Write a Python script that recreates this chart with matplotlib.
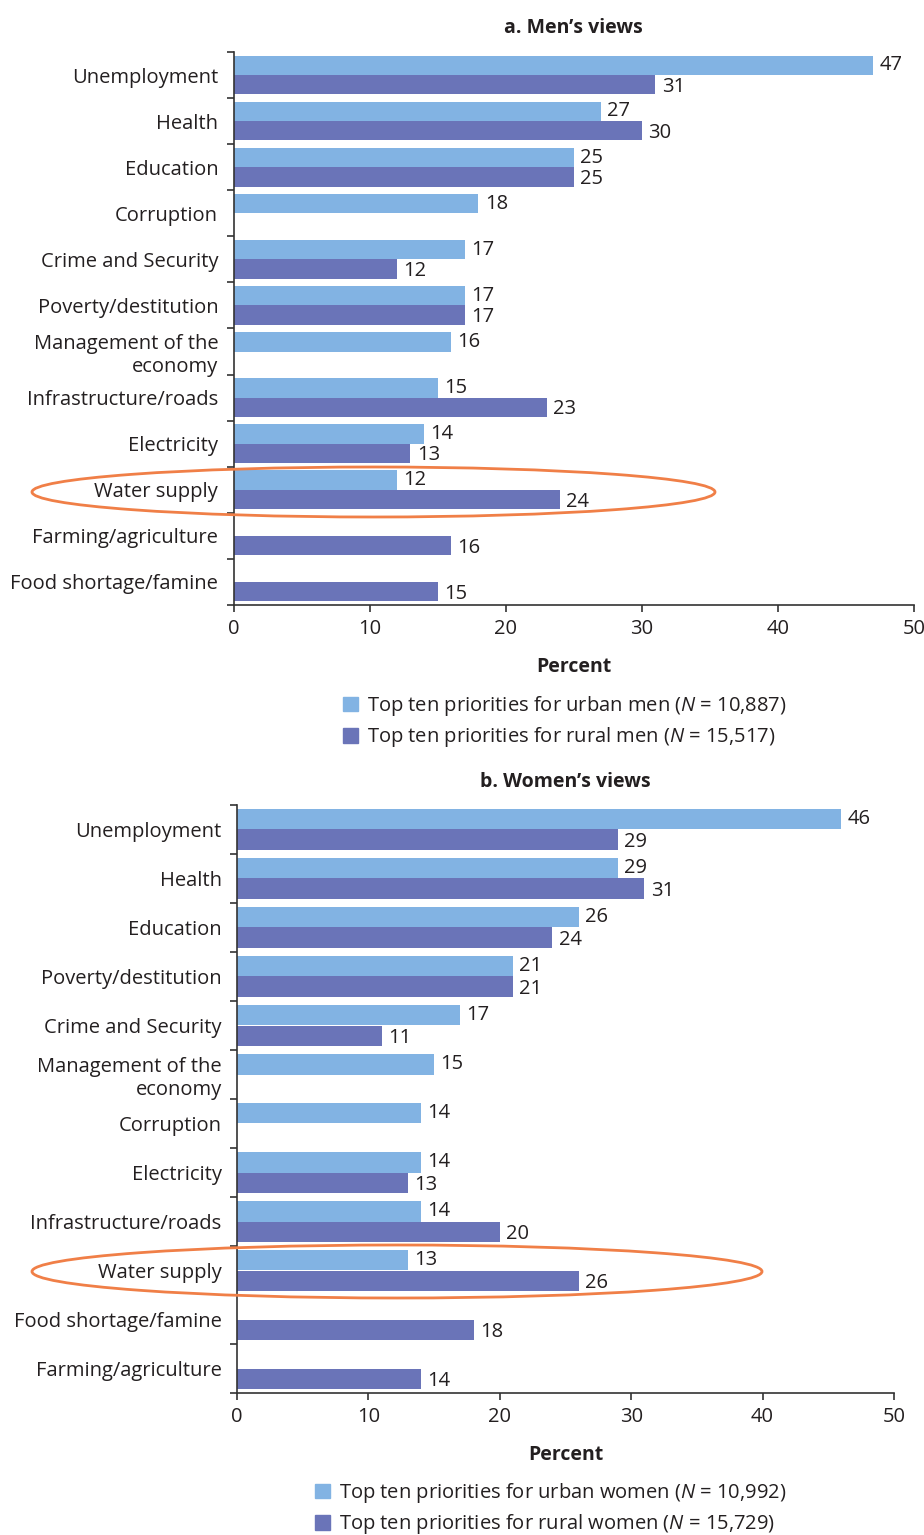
import matplotlib
matplotlib.use('Agg')
import matplotlib.pyplot as plt
import numpy as np
from matplotlib.patches import Ellipse

plt.rcParams['font.family'] = ['Open Sans', 'DejaVu Sans']
plt.rcParams['mathtext.fontset'] = 'custom'
plt.rcParams['mathtext.it'] = 'Open Sans:italic'
plt.rcParams['mathtext.rm'] = 'Open Sans'

LIGHT = '#82b3e3'
DARK = '#6a74b8'
ORANGE = '#f07f47'
TXT = '#231f20'

# panel a: men
men_cats = ['Unemployment', 'Health', 'Education', 'Corruption', 'Crime and Security',
            'Poverty/destitution', 'Management of the\neconomy', 'Infrastructure/roads',
            'Electricity', 'Water supply', 'Farming/agriculture', 'Food shortage/famine']
men_urban = [47, 27, 25, 18, 17, 17, 16, 15, 14, 12, np.nan, np.nan]
men_rural = [31, 30, 25, np.nan, 12, 17, np.nan, 23, 13, 24, 16, 15]

# panel b: women
women_cats = ['Unemployment', 'Health', 'Education', 'Poverty/destitution', 'Crime and Security',
              'Management of the\neconomy', 'Corruption', 'Electricity', 'Infrastructure/roads',
              'Water supply', 'Food shortage/famine', 'Farming/agriculture']
women_urban = [46, 29, 26, 21, 17, 15, 14, 14, 14, 13, np.nan, np.nan]
women_rural = [29, 31, 24, 21, 11, np.nan, np.nan, 13, 20, 26, 18, 14]

xticks = [0, 10, 20, 30, 40, 50]

W, H = 924, 1535
fig = plt.figure(figsize=(W / 100, H / 100), dpi=100)


def px_box(l, r, t, b):
    return [l / W, 1 - b / H, (r - l) / W, (b - t) / H]


def draw_panel(box, cats, urban, rural, title, title_y, legend_labels, leg_xy, ell):
    ax = fig.add_axes(px_box(*box))
    n = len(cats)
    y = np.arange(n)
    h = 0.42
    for vals, off, col, dy in ((urban, -h / 2, LIGHT, 0), (rural, h / 2, DARK, -1.5)):
        vals = np.array(vals, dtype=float)
        m = ~np.isnan(vals)
        ax.barh(y[m] + off, vals[m], height=h, color=col, edgecolor='none')
        for yy, v in zip(y[m] + off, vals[m]):
            ax.annotate('%d' % v, (v, yy), xytext=(4.5, dy), textcoords='offset points',
                        va='center', ha='left', fontsize=14.5, color=TXT)
    ax.set_xlim(0, 50)
    ax.set_ylim(n - 0.5, -0.5)
    ax.set_xticks(xticks)
    ax.set_yticks(y)
    ax.set_yticklabels(cats, fontsize=14.5, color=TXT, linespacing=1.2)
    ax.set_yticks(np.arange(n + 1) - 0.5, minor=True)
    ax.tick_params(axis='y', which='major', length=0, pad=11)
    ax.tick_params(axis='y', which='minor', length=5, width=1.2, color='#333333')
    ax.tick_params(axis='x', length=5, width=1.2, color='#333333', labelsize=14.5,
                   labelcolor=TXT, pad=5)
    for s in ('top', 'right'):
        ax.spines[s].set_visible(False)
    for s in ('left', 'bottom'):
        ax.spines[s].set_linewidth(1.2)
        ax.spines[s].set_color('#333333')
    ax.set_xlabel('Percent', fontsize=14, fontweight='bold', color=TXT, labelpad=13)
    cx = (box[0] + box[1]) / 2
    fig.text(cx / W, 1 - title_y / H, title, ha='center', va='center',
             fontsize=14, fontweight='bold', color=TXT)
    handles = [plt.Rectangle((0, 0), 1, 1, color=LIGHT), plt.Rectangle((0, 0), 1, 1, color=DARK)]
    ax.legend(handles, legend_labels, loc='upper left',
              bbox_to_anchor=(leg_xy[0] / W, 1 - leg_xy[1] / H), bbox_transform=fig.transFigure,
              frameon=False, fontsize=14.5, handlelength=0.75, handleheight=0.75,
              handletextpad=0.45, labelspacing=0.36, borderpad=0, borderaxespad=0,
              labelcolor=TXT)
    ex, ey, ew, eh = ell
    fig.add_artist(Ellipse((ex / W, 1 - ey / H), ew / W, eh / H, transform=fig.transFigure,
                           fill=False, edgecolor=ORANGE, linewidth=2))
    return ax


draw_panel((233.5, 914, 52, 605), men_cats, men_urban, men_rural, 'a. Men\u2019s views', 28,
           ['Top ten priorities for urban men ($N$ = 10,887)',
            'Top ten priorities for rural men ($N$ = 15,517)'],
           (343, 694), (373.5, 492, 683, 50))

draw_panel((237, 894, 805, 1393), women_cats, women_urban, women_rural, 'b. Women\u2019s views', 782,
           ['Top ten priorities for urban women ($N$ = 10,992)',
            'Top ten priorities for rural women ($N$ = 15,729)'],
           (315, 1481), (397, 1271.5, 730, 53))

fig.savefig('out.png', dpi=100)
